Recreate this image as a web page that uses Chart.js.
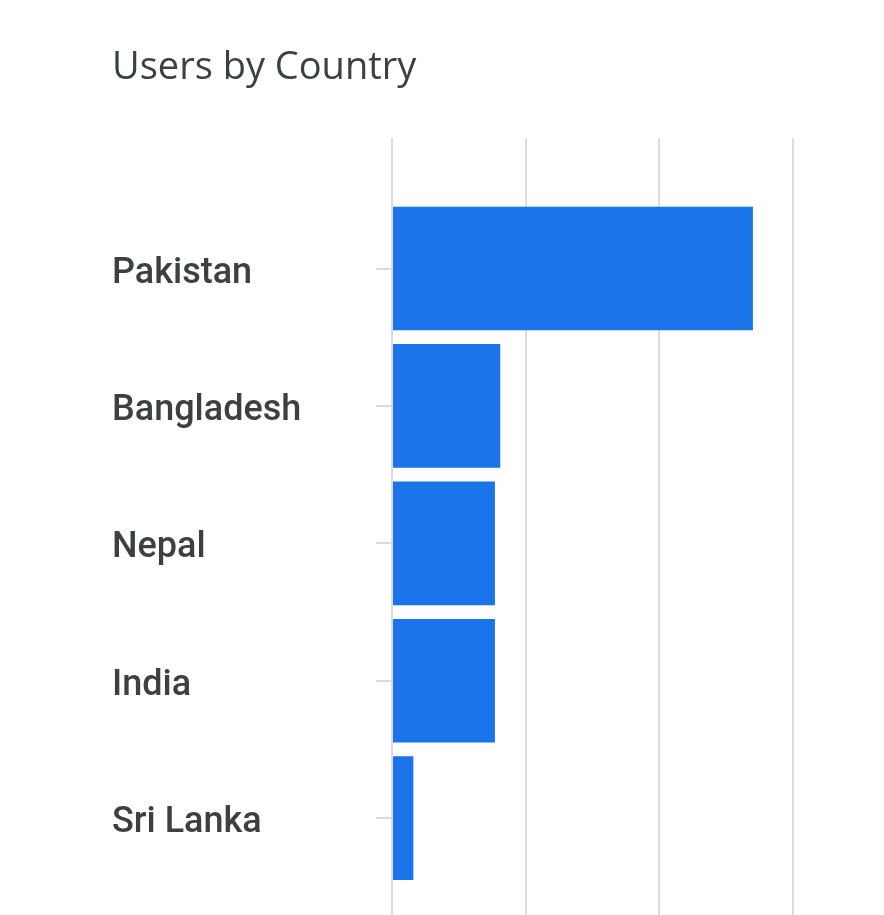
<!DOCTYPE html>
<html>
<head>
<meta charset="utf-8">
<title>Users by Country</title>
<script src="https://cdn.jsdelivr.net/npm/chart.js@4.4.1/dist/chart.umd.min.js"></script>
<style>
    body { margin: 0; background: #fff; }
    #wrap { width: 884px; height: 915px; }
</style>
</head>
<body>
<div id="wrap"><canvas id="users-chart"></canvas></div>
<script>
const countries = ["Pakistan", "Bangladesh", "Nepal", "India", "Sri Lanka"];
const users = [270, 81, 77, 77, 16];
const xTicks = [0, 100, 200, 300];

const textColor = "#3c4043";
const gridColor = "#dadce0";

Chart.defaults.font.family = "Roboto";

const points = countries.map(function(name, i) {
    return { x: users[i], y: i };
});

let ctx = document.getElementById("users-chart").getContext("2d");
let usersChart = new Chart(ctx, {
    type: "bar",
    data: {
        datasets: [{
            label: "Users",
            data: points,
            backgroundColor: "#1a73e8",
            barPercentage: 0.9,
            categoryPercentage: 1
        }]
    },
    options: {
        indexAxis: "y",
        responsive: true,
        maintainAspectRatio: false,
        animation: false,
        layout: {
            padding: { left: 112, right: 91, top: 45, bottom: 0 }
        },
        plugins: {
            legend: { display: false },
            tooltip: { enabled: false },
            title: {
                display: true,
                text: "Users by Country",
                align: "start",
                color: textColor,
                font: { family: "Open Sans", size: 38, weight: "normal", lineHeight: 1.2 },
                padding: { top: 0, bottom: 47.4 }
            }
        },
        scales: {
            x: {
                type: "linear",
                min: xTicks[0],
                max: xTicks[xTicks.length - 1],
                afterBuildTicks: function(scale) {
                    scale.ticks = xTicks.map(function(v) { return { value: v }; });
                },
                ticks: { display: false },
                grid: { color: gridColor, lineWidth: 2, drawTicks: false },
                border: { display: false }
            },
            y: {
                type: "linear",
                reverse: true,
                offset: false,
                min: -0.95,
                max: 4.705,
                afterBuildTicks: function(scale) {
                    scale.ticks = countries.map(function(c, i) { return { value: i }; });
                },
                afterFit: function(scale) {
                    scale.width = 280;
                    scale.paddingTop = 0;
                    scale.paddingBottom = 0;
                },
                ticks: {
                    crossAlign: "far",
                    color: textColor,
                    // empty first line nudges the name a few px down, like the original
                    font: { size: 36, weight: "500", lineHeight: "10px" },
                    callback: function(value) {
                        return ["", countries[value]];
                    }
                },
                grid: {
                    offset: false,
                    drawOnChartArea: false,
                    drawTicks: true,
                    tickLength: 16,
                    color: gridColor,
                    lineWidth: 2
                },
                border: { display: false }
            }
        }
    }
});
</script>
</body>
</html>
